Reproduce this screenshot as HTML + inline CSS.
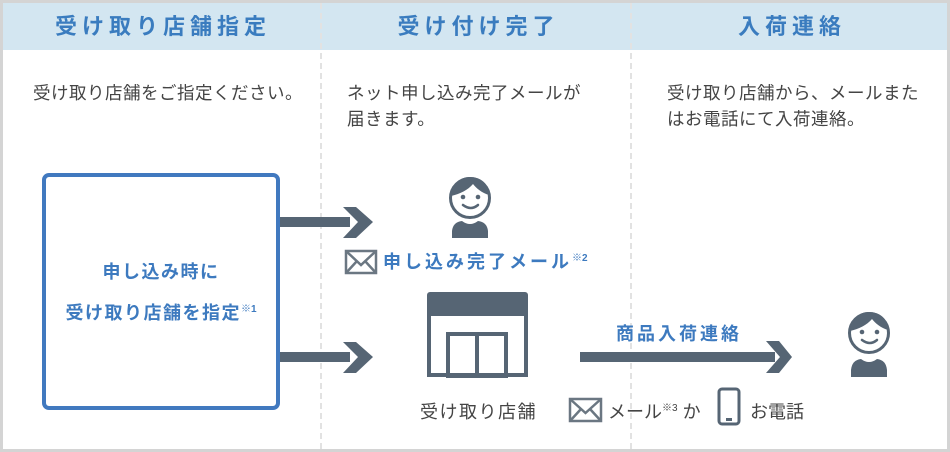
<!DOCTYPE html>
<html><head><meta charset="utf-8"><style>
*{margin:0;padding:0;box-sizing:border-box}
body{width:950px;height:452px;background:#fff;font-family:"Liberation Sans","Noto Sans CJK JP",sans-serif;position:relative;overflow:hidden}
.frame{position:absolute;left:0;top:0;width:950px;height:452px;border:3px solid #d4d4d4}
.hdr{position:absolute;top:3px;left:3px;width:944px;height:47px;background:#d3e6f1}
.h{position:absolute;top:3px;height:47px;line-height:47px;text-align:center;color:#3a7cbf;font-weight:bold;font-size:22px;letter-spacing:5px}
.d{position:absolute;color:#444;font-size:17.5px;line-height:26px;letter-spacing:0.5px}
.dash{position:absolute;top:3px;height:446px;width:0;border-left:2px dashed #e2e2e2}
.t{position:absolute;white-space:nowrap}
</style></head><body>
<div class="hdr"></div>
<div class="dash" style="left:320px"></div>
<div class="dash" style="left:630px"></div>
<div class="frame"></div>
<div class="h" style="left:3px;width:320px">受け取り店舗指定</div>
<div class="h" style="left:322px;width:313px">受け付け完了</div>
<div class="h" style="left:632px;width:320px">入荷連絡</div>
<div class="d" style="left:33px;top:80px">受け取り店舗をご指定ください。</div>
<div class="d" style="left:347px;top:80px">ネット申し込み完了メールが<br>届きます。</div>
<div class="d" style="left:667px;top:80px">受け取り店舗から、メールまた<br>はお電話にて入荷連絡。</div>
<div style="position:absolute;left:42px;top:173px;width:238px;height:237px;border:4px solid #4179bf;border-radius:7px"></div>
<div class="t" style="left:42px;width:238px;top:253px;text-align:center;color:#3d7abf;font-weight:bold;font-size:18px;line-height:38px;letter-spacing:1.5px">申し込み時に<br>受け取り店舗を指定<sup style="font-size:10px;letter-spacing:0">※1</sup></div>
<svg width="950" height="452" style="position:absolute;left:0;top:0" fill="#566574" stroke="none">
<rect x="280" y="217" width="70" height="10"/>
<polygon points="343,207 356,207 373,222 356,238 343,238 358,222"/>
<rect x="280" y="352" width="70" height="10"/>
<polygon points="343,342 356,342 373,357 356,373 343,373 358,357"/>
<rect x="580" y="352" width="195" height="10"/>
<polygon points="766,341 779,341 792,357 779,373 766,373 780,357"/>
<g transform="translate(470,198)">
<circle cx="0" cy="0" r="19.5" fill="#fff" stroke="#566574" stroke-width="3"/>
<path d="M-19,-2 C-18,-16 -8,-21 0,-21 C10,-21 19,-15 19,-3 C12,-5 6,-10 3,-14 C-2,-8 -10,-4 -19,-2Z"/>
<circle cx="-7" cy="-1" r="2.3"/><circle cx="8" cy="-1" r="2.3"/>
<path d="M-7,7 Q1,13 8,7" fill="none" stroke="#566574" stroke-width="2.5" stroke-linecap="round"/>
<path d="M-18,40 L-18,33 Q-17,24 -8,23 Q0,29 8,23 Q17,24 18,33 L18,40Z"/>
</g>
<g transform="translate(869,333)">
<circle cx="0" cy="0" r="19.5" fill="#fff" stroke="#566574" stroke-width="3"/>
<path d="M-19,-2 C-18,-16 -8,-21 0,-21 C10,-21 19,-15 19,-3 C12,-5 6,-10 3,-14 C-2,-8 -10,-4 -19,-2Z"/>
<circle cx="-7" cy="-1" r="2.3"/><circle cx="8" cy="-1" r="2.3"/>
<path d="M-7,7 Q1,13 8,7" fill="none" stroke="#566574" stroke-width="2.5" stroke-linecap="round"/>
<path d="M-18,44 L-18,37 Q-17,27 -8,26 Q0,32 8,26 Q17,27 18,37 L18,44Z"/>
</g>
<rect x="427" y="292" width="101" height="24" rx="3"/>
<rect x="429" y="314" width="97" height="61" fill="none" stroke="#566574" stroke-width="4"/>
<rect x="448" y="334" width="58" height="42" fill="none" stroke="#566574" stroke-width="4"/>
<rect x="475" y="334" width="4" height="42"/>
<g fill="none" stroke="#6b7782" stroke-width="2.5">
<rect x="346" y="251" width="30" height="22"/><path d="M346,251 L361,265 L376,251 M346,273 L357,261 M376,273 L365,261"/>
<rect x="570" y="399" width="31" height="22"/><path d="M570,399 L585.5,413 L601,399 M570,421 L581,409 M601,421 L590,409"/>
<rect x="719" y="389" width="20" height="35" rx="3" stroke="#566574" stroke-width="3"/>
</g>
<rect x="726" y="418" width="6" height="3" fill="#566574"/>
</svg>
<div class="t" style="left:383px;top:248px;color:#3d7abf;font-weight:bold;font-size:18px;letter-spacing:3px">申し込み完了メール<sup style="font-size:10px;letter-spacing:0">※2</sup></div>
<div class="t" style="left:420px;top:398px;color:#444;font-size:18px;letter-spacing:1.5px">受け取り店舗</div>
<div class="t" style="left:616px;top:320px;color:#3d7abf;font-weight:bold;font-size:18px;letter-spacing:3px">商品入荷連絡</div>
<div class="t" style="left:608px;top:398px;color:#444;font-size:18px">メール<sup style="font-size:10px">※3</sup> か</div>
<div class="t" style="left:750px;top:398px;color:#444;font-size:18px">お電話</div>
</body></html>
